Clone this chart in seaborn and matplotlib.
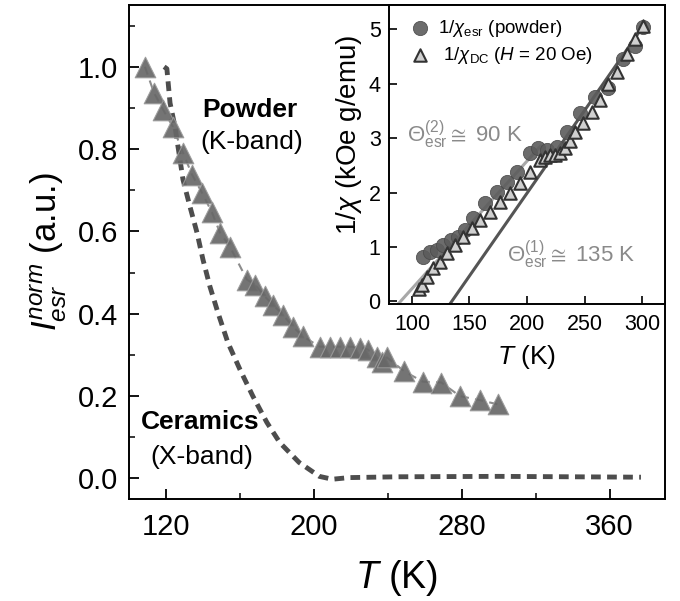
import matplotlib
matplotlib.use("Agg")
import matplotlib.pyplot as plt
import seaborn as sns

sns.set_theme(style="ticks")
plt.rcParams["font.family"] = ["Liberation Sans", "DejaVu Sans"]
plt.rcParams["mathtext.fontset"] = "custom"
plt.rcParams["mathtext.rm"] = "Liberation Sans"
plt.rcParams["mathtext.it"] = "Liberation Sans:italic"
plt.rcParams["mathtext.bf"] = "Liberation Sans:bold"
for key in ["text.color", "axes.labelcolor", "xtick.color", "ytick.color",
            "axes.edgecolor"]:
    plt.rcParams[key] = "black"

# main panel: normalised ESR intensity, powder (K-band) triangles
POWDER_T = [108.6, 113.5, 118.4, 123.8, 129.2, 134.1, 139.5, 144.9, 149.2, 154.6,
            163.8, 168.1, 173.5, 177.8, 183.2, 188.6, 194.1, 203.2, 208.6, 214.0,
            219.5, 224.9, 229.2, 234.0, 237.0, 239.5, 249.0, 259.0, 269.0, 279.0,
            290.0, 299.5]
POWDER_I = [1.0, 0.937, 0.896, 0.854, 0.791, 0.738, 0.694, 0.646, 0.597, 0.563,
            0.483, 0.471, 0.442, 0.422, 0.398, 0.369, 0.345, 0.32, 0.32, 0.32,
            0.32, 0.318, 0.313, 0.294, 0.284, 0.294, 0.26, 0.235, 0.233, 0.2,
            0.19, 0.18]

# ceramics (X-band) dashed curve
CERAMIC_T = [119.0, 120.5, 122.2, 124.9, 127.6, 129.2, 133.0, 136.8, 140.0, 143.8,
             148.1, 153.5, 160.0, 167.0, 174.6, 181.6, 192.0, 203.0, 210.0, 219.0,
             246.0, 300.0, 377.0]
CERAMIC_I = [1.0, 0.995, 0.912, 0.854, 0.774, 0.726, 0.66, 0.597, 0.532, 0.466,
             0.403, 0.33, 0.265, 0.2, 0.136, 0.087, 0.039, 0.005, -0.002, 0.002,
             0.004, 0.005, 0.003]

# inset: inverse susceptibility
ESR_T = [109.6, 115.7, 121.7, 127.0, 133.5, 139.6, 146.0, 153.0, 163.5, 174.0,
         182.6, 191.3, 202.6, 209.6, 217.4, 226.0, 234.8, 246.0, 259.0, 270.0,
         283.5, 294.0, 301.0]
ESR_INV = [0.81, 0.90, 0.94, 1.03, 1.13, 1.18, 1.31, 1.53, 1.81, 2.01,
           2.19, 2.38, 2.73, 2.82, 2.79, 2.84, 3.12, 3.47, 3.76, 3.93,
           4.45, 4.69, 5.04]

DC_T = [106.0, 108.7, 113.0, 118.0, 124.0, 130.4, 137.4, 144.3, 152.2, 159.0,
        167.8, 176.5, 185.2, 193.9, 202.6, 211.3, 216.0, 220.0, 224.5, 228.7,
        233.0, 237.0, 241.7, 248.7, 256.5, 263.5, 270.4, 278.0, 287.0, 294.0,
        301.0]
DC_INV = [0.22, 0.30, 0.44, 0.61, 0.72, 0.89, 1.03, 1.18, 1.35, 1.49,
          1.64, 1.82, 1.99, 2.17, 2.38, 2.60, 2.66, 2.69, 2.69, 2.72,
          2.82, 2.95, 3.12, 3.28, 3.49, 3.71, 3.99, 4.22, 4.54, 4.82,
          5.06]

# Curie-Weiss fit lines (end points)
FIT2_T = [88.0, 212.0]
FIT2_Y = [-0.05, 2.86]
FIT1_T = [133.0, 303.0]
FIT1_Y = [-0.05, 5.12]

fig = plt.figure(figsize=(6.8, 6.01), dpi=100)
ax = fig.add_axes([0.1897, 0.1697, 0.7882, 0.822])

sns.lineplot(x=POWDER_T, y=POWDER_I, sort=False, estimator=None, ax=ax,
             color="#8c8c8c", lw=1.5, linestyle=(0, (4, 3)))
sns.lineplot(x=CERAMIC_T, y=CERAMIC_I, sort=False, estimator=None, ax=ax,
             color="#4d4d4d", lw=3.5, linestyle=(0, (2, 1.3)))
sns.scatterplot(x=POWDER_T, y=POWDER_I, marker="^", s=220, color="#686868",
                edgecolor="#9a9a9a", linewidth=0.8, alpha=0.92, ax=ax, zorder=3)

ax.set_xlim(100, 390)
ax.set_ylim(-0.05, 1.15)
ax.set_xticks([120, 200, 280, 360])
ax.set_xticks([160, 240, 320], minor=True)
ax.set_yticks([0.0, 0.2, 0.4, 0.6, 0.8, 1.0])
ax.set_yticks([0.1, 0.3, 0.5, 0.7, 0.9, 1.1], minor=True)
ax.set_yticklabels(["0.0", "0.2", "0.4", "0.6", "0.8", "1.0"])
ax.tick_params(which="major", direction="in", length=7, width=1.3,
               labelsize=21, color="black")
ax.tick_params(axis="x", which="major", pad=10)
ax.tick_params(axis="y", which="major", pad=8)
ax.tick_params(which="minor", direction="in", length=4.5, width=1.1)
for s in ax.spines.values():
    s.set_linewidth(1.4)
    s.set_color("black")
ax.set_xlabel(r"$T$ (K)", fontsize=27, labelpad=12)
ax.set_ylabel(r"$I^{norm}_{esr}$ (a.u.)", fontsize=25, labelpad=6)

ax.text(165.5, 0.896, "Powder", fontsize=19, fontweight="bold",
        ha="center", va="center")
ax.text(166.5, 0.818, "(K-band)", fontsize=19, ha="center", va="center")
ax.text(138.5, 0.136, "Ceramics", fontsize=19, fontweight="bold",
        ha="center", va="center")
ax.text(139.5, 0.053, "(X-band)", fontsize=19, ha="center", va="center")

# inset
ins = fig.add_axes([0.572, 0.4942, 0.406, 0.4975])
ins.set_facecolor("white")
sns.lineplot(x=FIT2_T, y=FIT2_Y, estimator=None, ax=ins, color="#a8a8a8", lw=2.2)
sns.lineplot(x=FIT1_T, y=FIT1_Y, estimator=None, ax=ins, color="#555555", lw=2.2)
sns.scatterplot(x=ESR_T, y=ESR_INV, marker="o", s=105, color="#5c5c5c",
                edgecolor="#4a4a4a", linewidth=0.6, alpha=0.9, ax=ins, zorder=3,
                label=r"1/$\chi_{\rm esr}$ (powder)")
sns.scatterplot(x=DC_T, y=DC_INV, marker="^", s=80, color="#d0d0d0",
                edgecolor="#333333", linewidth=1.5, ax=ins, zorder=4,
                label=r" 1/$\chi_{\rm DC}$ ($H$ = 20 Oe)")

ins.set_xlim(80, 320)
ins.set_ylim(-0.05, 5.45)
ins.set_xticks([100, 150, 200, 250, 300])
ins.set_yticks([0, 1, 2, 3, 4, 5])
ins.tick_params(direction="in", length=6, width=1.2, labelsize=15.5)
ins.tick_params(axis="x", pad=7)
ins.tick_params(axis="y", pad=6)
for s in ins.spines.values():
    s.set_linewidth(1.4)
    s.set_color("black")
ins.set_xlabel(r"$T$ (K)", fontsize=19, labelpad=6)
ins.set_ylabel(r"1/$\chi$ (kOe g/emu)", fontsize=20)
ins.yaxis.set_label_coords(-0.09, 0.565)

ins.legend(loc="upper left", bbox_to_anchor=(0.03, 0.995), frameon=False,
           fontsize=13.5, handletextpad=0.4, borderaxespad=0.2, labelspacing=0.35,
           handlelength=1.2)

ins.text(95.7, 2.93, r"$\Theta^{(2)}_{\rm esr}\cong$ 90 K", fontsize=16,
         color="#8a8a8a", ha="left", va="baseline")
ins.text(182.6, 0.72, r"$\Theta^{(1)}_{\rm esr}\cong$ 135 K", fontsize=16,
         color="#8a8a8a", ha="left", va="baseline")

fig.savefig("out.png", dpi=100)
